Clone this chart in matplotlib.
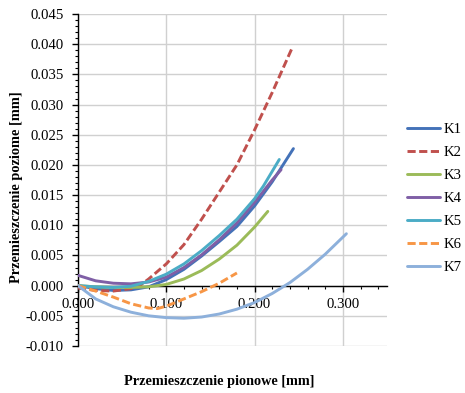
import matplotlib
matplotlib.use("Agg")
import matplotlib.pyplot as plt
from matplotlib.ticker import MultipleLocator, FormatStrFormatter

# Vertical displacement [mm] (x) and horizontal displacement [mm] (y) per sample
k1_x = [0.00, 0.02, 0.04, 0.06, 0.08, 0.10, 0.12, 0.14, 0.16, 0.18, 0.20, 0.22, 0.244]
k1_y = [0.0000, -0.0005, -0.0008, -0.0007, -0.0002, 0.0010, 0.0027, 0.0049, 0.0073, 0.0098, 0.0132, 0.0172, 0.0227]

k2_x = [0.00, 0.02, 0.04, 0.06, 0.07, 0.08, 0.10, 0.12, 0.14, 0.16, 0.18, 0.20, 0.22, 0.242]
k2_y = [-0.0004, -0.0008, -0.0009, -0.0005, 0.0000, 0.0011, 0.0036, 0.0068, 0.0110, 0.0155, 0.0200, 0.0258, 0.0320, 0.0392]

k3_x = [0.00, 0.02, 0.04, 0.06, 0.08, 0.10, 0.12, 0.14, 0.16, 0.18, 0.20, 0.215]
k3_y = [0.0000, -0.0002, -0.0003, -0.0003, -0.0002, 0.0002, 0.0011, 0.0025, 0.0044, 0.0067, 0.0097, 0.0123]

k4_x = [0.00, 0.02, 0.04, 0.06, 0.08, 0.10, 0.12, 0.14, 0.16, 0.18, 0.20, 0.22, 0.230]
k4_y = [0.0017, 0.0008, 0.0004, 0.0003, 0.0006, 0.0014, 0.0030, 0.0051, 0.0076, 0.0104, 0.0138, 0.0175, 0.0192]

k5_x = [0.00, 0.02, 0.04, 0.06, 0.08, 0.10, 0.12, 0.14, 0.16, 0.18, 0.20, 0.21, 0.228]
k5_y = [0.0000, -0.0002, -0.0003, -0.0001, 0.0007, 0.0019, 0.0036, 0.0058, 0.0083, 0.0110, 0.0144, 0.0165, 0.0209]

k6_x = [0.00, 0.02, 0.04, 0.06, 0.08, 0.09, 0.10, 0.12, 0.14, 0.16, 0.18]
k6_y = [0.0000, -0.0009, -0.0019, -0.0030, -0.0037, -0.0038, -0.0034, -0.0022, -0.0010, 0.0004, 0.0021]

k7_x = [0.00, 0.02, 0.04, 0.06, 0.08, 0.10, 0.12, 0.14, 0.16, 0.18, 0.20, 0.22, 0.24, 0.26, 0.28, 0.304]
k7_y = [0.0000, -0.0022, -0.0035, -0.0044, -0.0050, -0.0053, -0.0054, -0.0052, -0.0047, -0.0039, -0.0028,
        -0.0013, 0.0005, 0.0027, 0.0052, 0.0086]

labels = ["K1", "K2", "K3", "K4", "K5", "K6", "K7"]
xs = [k1_x, k2_x, k3_x, k4_x, k5_x, k6_x, k7_x]
ys = [k1_y, k2_y, k3_y, k4_y, k5_y, k6_y, k7_y]
colors = ["#4472B8", "#C0504D", "#9BBB59", "#7F5FA6", "#4BACC6", "#F79646", "#8DB0DB"]
dashed = [False, True, False, False, False, True, False]

plt.rcParams["font.family"] = ["Liberation Serif", "DejaVu Serif"]

fig = plt.figure(figsize=(4.65, 3.93), dpi=100)
ax = fig.add_axes([78 / 465, 1 - 346 / 393, (387 - 78) / 465, (346 - 14) / 393])

for x, y, lab, c, d in zip(xs, ys, labels, colors, dashed):
    if d:
        ax.plot(x, y, color=c, lw=2.1, dashes=(2.8, 1.2), label=lab, zorder=3)
    else:
        ax.plot(x, y, color=c, lw=2.1, label=lab, zorder=3, solid_capstyle="round")

ax.set_xlim(0, 0.35)
ax.set_ylim(-0.010, 0.045)

ax.xaxis.set_major_locator(MultipleLocator(0.1))
ax.xaxis.set_minor_locator(MultipleLocator(0.02))
ax.yaxis.set_major_locator(MultipleLocator(0.005))
ax.yaxis.set_minor_locator(MultipleLocator(0.001))
ax.xaxis.set_major_formatter(FormatStrFormatter("%.3f"))
ax.yaxis.set_major_formatter(FormatStrFormatter("%.3f"))

ax.grid(True, which="major", color="#D0D0D0", lw=1.0, zorder=0)
ax.set_axisbelow(True)

for s in ["top", "right"]:
    ax.spines[s].set_visible(False)
ax.spines["bottom"].set_position(("data", 0.0))
ax.spines["bottom"].set_linewidth(1.0)
ax.spines["left"].set_linewidth(1.0)

ax.tick_params(axis="both", which="major", direction="out", length=4, width=1.0,
               labelsize=10.6, colors="black")
ax.tick_params(axis="both", which="minor", direction="out", length=2.5, width=0.8)
ax.tick_params(axis="y", which="major", pad=6)
ax.tick_params(axis="x", which="major", pad=5)

fig.text(219 / 465, 1 - 381 / 393, "Przemieszczenie pionowe [mm]", ha="center", va="center",
         fontsize=10.3, fontweight="bold")
fig.text(17 / 465, 1 - 187 / 393, "Przemieszczenie poziome [mm]", ha="center", va="center",
         rotation=90, fontsize=10.4, fontweight="bold")

fig.legend(loc="upper left", bbox_to_anchor=(407 / 465, 1 - 123 / 393), frameon=False,
           fontsize=10.6, handlelength=2.25, handletextpad=0.25, labelspacing=0.66,
           borderpad=0, borderaxespad=0)

fig.savefig("out.png", dpi=100)
